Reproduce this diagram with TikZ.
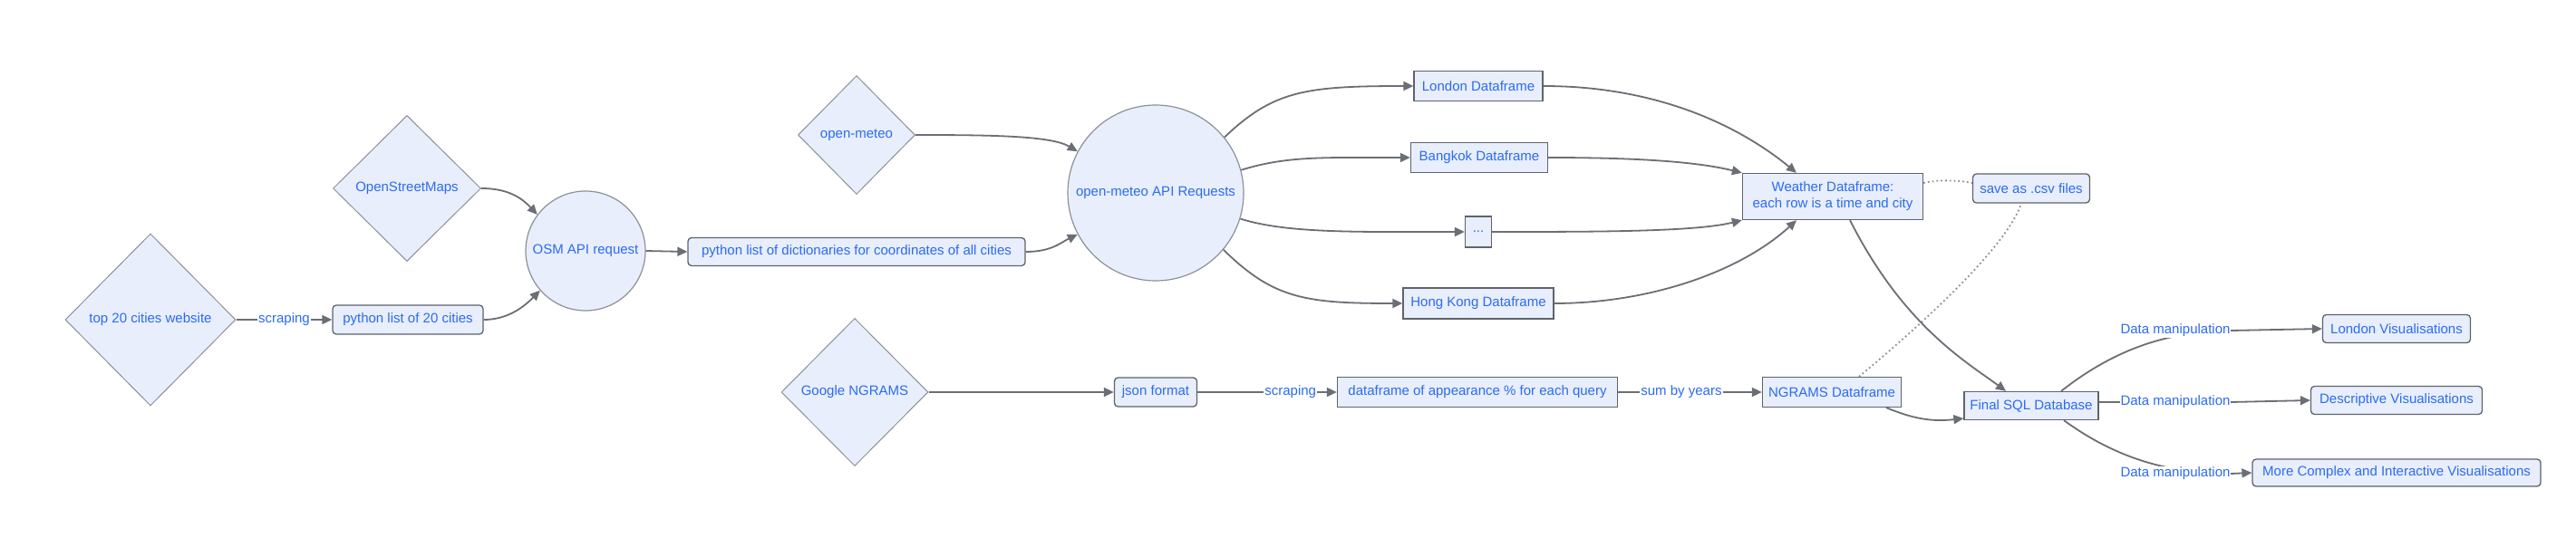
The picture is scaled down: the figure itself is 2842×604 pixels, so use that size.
\documentclass[tikz,border=0pt]{standalone}
\usepackage{fontspec}
\setmainfont{Liberation Sans}
\usetikzlibrary{shapes.geometric,arrows.meta}
\pgfdeclarelayer{bg}
\pgfdeclarelayer{paper}
\pgfsetlayers{paper,bg,main}
\definecolor{nfill}{HTML}{E8EEFB}
\definecolor{ntext}{HTML}{2B6BF3}
\definecolor{nline}{HTML}{5F636A}
\definecolor{eline}{HTML}{6B6F75}
\definecolor{dline}{HTML}{8E9196}
\begin{document}
\begin{tikzpicture}[x=1pt,y=-1pt,
  every node/.style={font=\fontsize{15}{18}\selectfont, text=ntext},
  base/.style={draw=nline, fill=nfill, line width=1.3pt, inner sep=0pt, align=center},
  sqbox/.style={base, rectangle},
  rbox/.style={base, rectangle, rounded corners=4pt},
  dia/.style={base, diamond, draw=dline, line width=1pt},
  circ/.style={base, circle, draw=dline, line width=1.2pt},
  conn/.style={draw=eline, line width=1.8pt, -{Triangle[length=11pt,width=10pt]}},
  dotline/.style={draw=dline, line width=1.8pt, dash pattern=on 1.8pt off 3pt},
  lbl/.style={fill=white, inner sep=1pt, text=ntext}]
\begin{pgfonlayer}{paper}
\fill[white] (0,0) rectangle (2842,604);
\end{pgfonlayer}
\useasboundingbox (0,0) rectangle (2842,604);

% nodes
\node[dia, minimum width=188pt, minimum height=190pt] (top20) at (166,353) {top 20 cities website};
\node[dia, minimum width=163pt, minimum height=161pt] (osm) at (449,208) {OpenStreetMaps};
\node[circ, minimum size=132pt] (osmapi) at (646,277) {OSM API request};
\node[rbox, minimum width=166pt, minimum height=32pt] (py20) at (450,353) {python list of 20 cities};
\node[rbox, minimum width=372pt, minimum height=31pt] (pydict) at (945,278) {python list of dictionaries for coordinates of all cities};
\node[dia, minimum width=129pt, minimum height=131pt] (om) at (945,149) {open-meteo};
\node[circ, minimum size=194pt] (omapi) at (1275,213) {open-meteo API Requests};
\node[sqbox, minimum width=142pt, minimum height=33pt] (london) at (1631,95) {London Dataframe};
\node[sqbox, minimum width=151pt, minimum height=33pt] (bangkok) at (1632,174) {Bangkok Dataframe};
\node[sqbox, minimum width=29pt, minimum height=34pt] (dots) at (1631,256) {...};
\node[sqbox, minimum width=166pt, minimum height=34pt] (hk) at (1631,335) {Hong Kong Dataframe};
\node[sqbox, minimum width=199pt, minimum height=51pt] (weather) at (2022,217) {Weather Dataframe:\\each row is a time and city};
\node[rbox, minimum width=129pt, minimum height=32pt] (csv) at (2241,208) {save as .csv files};
\node[dia, minimum width=162pt, minimum height=163pt] (gng) at (943,433) {Google NGRAMS};
\node[rbox, minimum width=91pt, minimum height=32pt] (json) at (1275,433) {json format};
\node[sqbox, minimum width=309pt, minimum height=33pt] (dfapp) at (1630,433) {dataframe of appearance \% for each query};
\node[sqbox, minimum width=153pt, minimum height=33pt] (ngdf) at (2021,433) {NGRAMS Dataframe};
\node[sqbox, minimum width=148pt, minimum height=31pt] (sql) at (2241,448) {Final SQL Database};
\node[rbox, minimum width=163pt, minimum height=31pt] (lvis) at (2644,363) {London Visualisations};
\node[rbox, minimum width=189pt, minimum height=31pt] (dvis) at (2644,442) {Descriptive Visualisations};
\node[rbox, minimum width=318pt, minimum height=30pt] (mvis) at (2644,522) {More Complex and Interactive Visualisations};

% edge labels on curved connectors
\node[lbl] (dm1) at (2400,365) {Data manipulation};
\node[lbl] (dm2) at (2400,444) {Data manipulation};
\node[lbl] (dm3) at (2400,523) {Data manipulation};

\begin{pgfonlayer}{bg}
\draw[conn] (osm.east) .. controls (560,208) and (575,218) .. (osmapi.143);
\draw[conn] (py20.east) .. controls (557,353) and (575,342) .. (osmapi.221);
\draw[conn] (om.east) .. controls (1095,149) and (1160,150) .. (omapi.152);
\draw[conn] (pydict.east) .. controls (1160,278) and (1170,268) .. (omapi.208);
\draw[conn] (omapi.39) .. controls (1405,100) and (1440,95) .. (london.west);
\draw[conn] (omapi.15) .. controls (1420,172) and (1460,174) .. (bangkok.west);
\draw[conn] (omapi.-17) .. controls (1420,258) and (1500,256) .. (dots.west);
\draw[conn] (omapi.-40) .. controls (1405,330) and (1440,335) .. (hk.west);
\draw[conn] (london.east) .. controls (1830,95) and (1920,140) .. ([xshift=-40pt]weather.north);
\draw[conn] (bangkok.east) .. controls (1800,174) and (1870,178) .. (weather.north west);
\draw[conn] (dots.east) .. controls (1760,256) and (1870,256) .. (weather.south west);
\draw[conn] (hk.east) .. controls (1820,335) and (1920,300) .. ([xshift=-40pt]weather.south);
\draw[dotline] ([yshift=15pt]weather.east) .. controls (2140,198) and (2160,199) .. ([yshift=6pt]csv.west);
\draw[dotline] ([xshift=30pt]ngdf.north) .. controls (2130,350) and (2215,270) .. ([xshift=-11pt]csv.south);
\draw[conn] ([xshift=19pt]weather.south) .. controls (2100,360) and (2170,400) .. ([xshift=-28pt]sql.north);
\draw[conn] ([xshift=60pt]ngdf.south) .. controls (2110,462) and (2130,466) .. ([yshift=-14pt]sql.west);
\draw[conn] ([xshift=33pt]sql.north) .. controls (2340,380) and (2400,366) .. (dm1.east) -- (lvis.west);
\draw[conn] ([yshift=4pt]sql.east) -- (dm2.east) -- (dvis.west);
\draw[conn] ([xshift=36pt]sql.south) .. controls (2340,510) and (2400,523) .. (dm3.east) -- (mvis.west);
\end{pgfonlayer}

\draw[conn] (top20.east) -- node[lbl, pos=0.5] {scraping} (py20.west);
\draw[conn] (osmapi.east) -- (pydict.west);
\draw[conn] (gng.east) -- (json.west);
\draw[conn] (json.east) -- node[lbl, pos=0.667] {scraping} (dfapp.west);
\draw[conn] (dfapp.east) -- node[lbl, pos=0.44] {sum by years} (ngdf.west);
\end{tikzpicture}
\end{document}
